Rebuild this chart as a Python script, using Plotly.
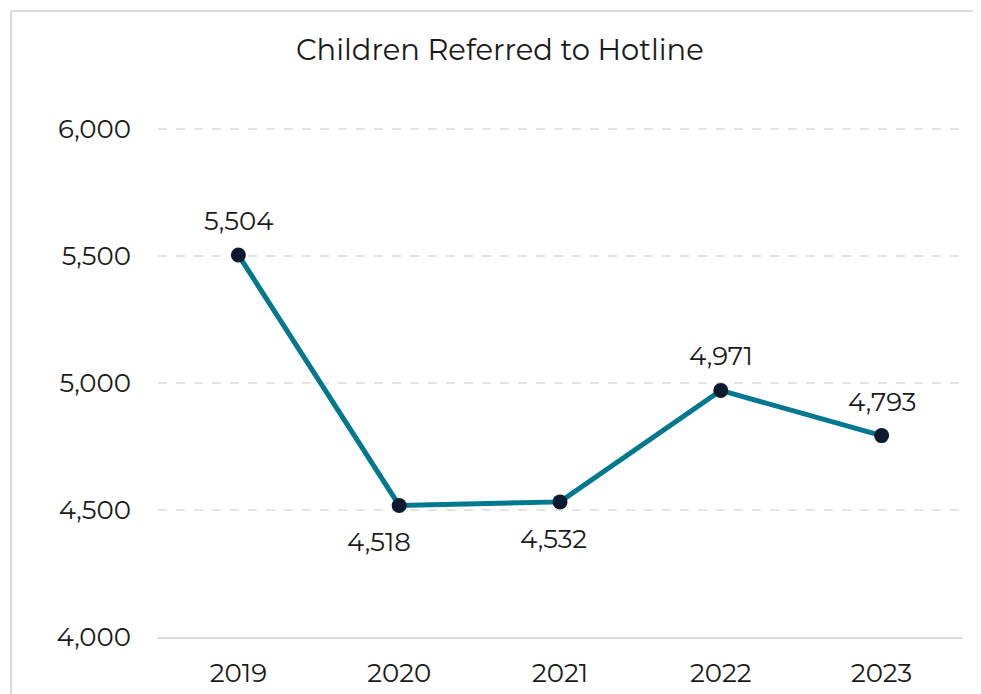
import plotly.graph_objects as go

years = ["2019", "2020", "2021", "2022", "2023"]
referred = [5504, 4518, 4532, 4971, 4793]
label_yshift = [34, -37, -37, 34, 34]
label_xshift = [0, -20, -7, 0, 0]
y_ticks = [4000, 4500, 5000, 5500, 6000]

# page renders with an 8px body offset
OFF = 8
W, H = 981, 694
Y_MIN, Y_MAX = 4000, 6020
PX_PER_UNIT = (637 - 129) / 2000
L = 158 - OFF
T = 129 - OFF - (Y_MAX - 6000) * PX_PER_UNIT
R = W - (962.5 - OFF)
B = H - (637 - OFF)
pw, ph = W - L - R, H - T - B

def px(x):
    return (x - OFF - L) / pw

def py(y):
    return (H - B - (y - OFF)) / ph

FONT = "Montserrat, DejaVu Sans, sans-serif"
BORDER = dict(color="#d9d9d9", width=2)

fig = go.Figure()
fig.add_trace(go.Scatter(
    x=years, y=referred, mode="lines+markers",
    line=dict(color="#00788F", width=5),
    marker=dict(color="#0E1A30", size=15),
    cliponaxis=False,
    hoverinfo="skip",
))

annotations = [
    dict(x=i, y=v, xref="x", yref="y", text=f"{v:,}", showarrow=False,
         yshift=ys, xshift=xs, xanchor="center", yanchor="middle",
         font=dict(family=FONT, size=26, color="#1a1a1a"))
    for i, (v, ys, xs) in enumerate(zip(referred, label_yshift, label_xshift))
]
annotations += [
    dict(text="Children Referred to Hotline", xref="paper", yref="paper",
         x=px(500), y=py(49), xanchor="center", yanchor="middle",
         showarrow=False, font=dict(family=FONT, size=29, color="#1a1a1a")),
    dict(text="Fig. 1", xref="paper", yref="paper",
         x=px(8), y=py(6), xanchor="left", yanchor="bottom",
         showarrow=False, font=dict(family=FONT, size=22, color="#595959")),
]

fig.update_layout(
    width=W, height=H,
    margin=dict(l=L, r=R, t=T, b=B),
    paper_bgcolor="white", plot_bgcolor="white",
    showlegend=False,
    font=dict(family=FONT, color="#1a1a1a"),
    xaxis=dict(
        type="category", range=[-0.5, 4.5],
        showgrid=False, showline=True, linecolor="#d9d9d9", linewidth=2,
        ticks="", tickfont=dict(size=26, color="#1a1a1a"),
        ticklabelstandoff=12,
    ),
    yaxis=dict(
        range=[Y_MIN, Y_MAX], tickvals=y_ticks, tickformat=",",
        showgrid=True, gridcolor="#e6e3e3", griddash="dash", gridwidth=2,
        zeroline=False, showline=False, ticks="",
        tickfont=dict(size=26, color="#1a1a1a"),
        ticklabelstandoff=26,
    ),
    shapes=[
        dict(type="line", xref="paper", yref="paper",
             x0=px(11), x1=px(1010), y0=py(11), y1=py(11),
             line=BORDER, layer="below"),
        dict(type="line", xref="paper", yref="paper",
             x0=px(11), x1=px(11), y0=py(11), y1=py(720),
             line=BORDER, layer="below"),
    ],
    annotations=annotations,
)

fig.write_html("out.html")
